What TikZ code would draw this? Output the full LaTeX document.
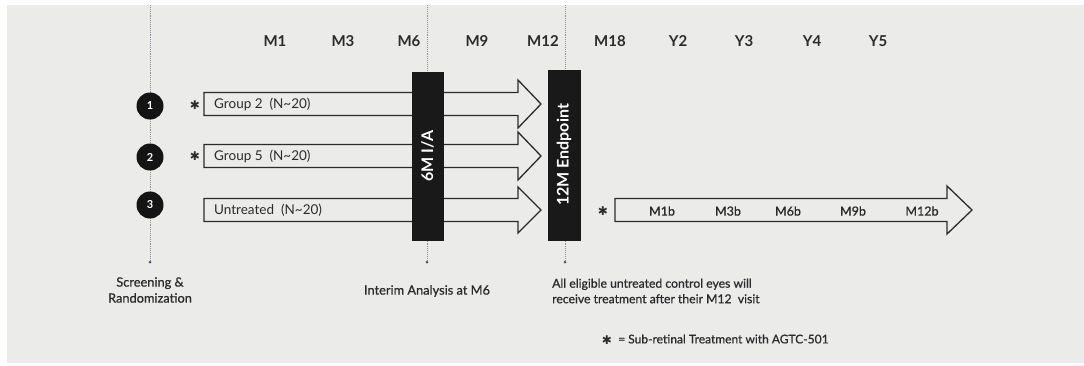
\documentclass[tikz,border=0pt]{standalone}
\usepackage{fontspec}
\setmainfont{Lato}
\newfontfamily\symfont{DejaVu Sans}
\newfontfamily\semifont{Lato}[FakeBold=0.8]
\definecolor{bg}{HTML}{EBEBEA}
\definecolor{ink}{HTML}{2B2B2B}
\definecolor{dotc}{HTML}{8A929A}
\tikzset{
  tick/.style={font=\bfseries\fontsize{15}{17}\selectfont, text=ink, inner sep=0pt},
  grp/.style={font=\fontsize{13.5}{15}\selectfont, text=ink, inner sep=0pt, anchor=west},
  blab/.style={font=\semifont\fontsize{12.5}{15}\selectfont, text=ink, inner sep=0pt},
  bluearrow/.style={draw=ink, line width=1.3pt, fill=bg, line join=miter},
  bar/.style={fill=black!90, draw=black!90},
  bartext/.style={font=\bfseries\fontsize{16}{18}\selectfont, text=white, rotate=90, inner sep=0pt},
  num/.style={circle, fill=black!92, minimum size=27pt, inner sep=0pt, text=white, font=\bfseries\fontsize{11}{12}\selectfont},
  guide/.style={dotc, densely dotted, line width=0.9pt},
  star/.style={font=\symfont\fontsize{12}{12}\selectfont, text=ink, inner sep=0pt},
  endpt/.style={circle, fill=dotc!60!black, inner sep=0pt, minimum size=3pt}
}
\newcommand{\bodyarrow}[5]{% x0, x1 (head base), xtip, yc, half head
  \draw[bluearrow] (#1,#4-11.5) -- (#2,#4-11.5) -- (#2,#4-#5) -- (#3,#4) -- (#2,#4+#5) -- (#2,#4+11.5) -- (#1,#4+11.5) -- cycle;
}
\begin{document}
\begin{tikzpicture}[x=1pt,y=-1pt]
\fill[white] (0,0) rectangle (1084,365);
\fill[bg] (7,5) rectangle (1084,363);
\useasboundingbox (0,0) rectangle (1084,365);

% guide lines
\coordinate (g1top) at (150,5);
\coordinate (g2top) at (427,5);
\coordinate (g3top) at (565,5);
\node[endpt] (g1end) at (150,262) {};
\node[endpt] (g2end) at (427,262) {};
\node[endpt] (g3end) at (565,262) {};
\draw[guide] (g1top) -- (g1end);
\draw[guide] (g2top) -- (g2end);
\draw[guide] (g3top) -- (g3end);

% timeline labels
\node[tick] (m1) at (275,41) {M1};
\node[tick] (m3) at (343,41) {M3};
\node[tick] (m6) at (409,41) {M6};
\node[tick] (m9) at (477,41) {M9};
\node[tick] (m12) at (543,41) {M12};
\node[tick] (m18) at (610,41) {M18};
\node[tick] (y2) at (678,41) {Y2};
\node[tick] (y3) at (744,41) {Y3};
\node[tick] (y4) at (812,41) {Y4};
\node[tick] (y5) at (878,41) {Y5};

% arrows
\bodyarrow{204}{518}{541}{104}{24}
\bodyarrow{204}{518}{541}{156}{24}
\bodyarrow{204}{518}{541}{210}{23}
\node[grp] (a1) at (214,104) {Group 2\ \ (N\textasciitilde 20)};
\node[grp] (a2) at (214,156) {Group 5\ \ (N\textasciitilde 20)};
\node[grp] (a3) at (214,210) {Untreated\ \ (N\textasciitilde 20)};

% circles
\node[num] (c1) at (150,106) {1};
\node[num] (c2) at (150,157) {2};
\node[num] (c3) at (150,205) {3};

% stars
\node[star] (s1) at (195,105) {✱};
\node[star] (s2) at (195,156) {✱};

% bars
\draw[bar] (412,72) rectangle (443,240);
\node[bartext] (b1) at (427.5,156) {6M I/A};
\draw[bar] (548,70) rectangle (580,240);
\node[bartext] (b2) at (564,155) {12M Endpoint};

% bottom arrow
\bodyarrow{615}{947}{972}{210}{24}
\node[star] (s3) at (603,211) {✱};
\node[blab] (p1) at (662,211) {M1b};
\node[blab] (p2) at (728,211) {M3b};
\node[blab] (p3) at (788,211) {M6b};
\node[blab] (p4) at (853,211) {M9b};
\node[blab] (p5) at (922,211) {M12b};

% bottom texts
\node[blab, align=center, font=\semifont\fontsize{12.8}{16}\selectfont] (t1) at (150,290) {Screening \&\\Randomization};
\node[blab, font=\semifont\fontsize{12.8}{15}\selectfont] (t2) at (427,291) {Interim Analysis at M6};
\node[blab, align=left, anchor=west, font=\semifont\fontsize{12.2}{15.5}\selectfont] (t3) at (552,291) {All eligible untreated control eyes will\\receive treatment after their M12\ \ visit};
\node[star] (s4) at (607,340) {✱};
\node[blab, anchor=west, font=\semifont\fontsize{12}{14}\selectfont] (t4) at (618,339) {= Sub-retinal Treatment with AGTC-501};
\end{tikzpicture}
\end{document}
